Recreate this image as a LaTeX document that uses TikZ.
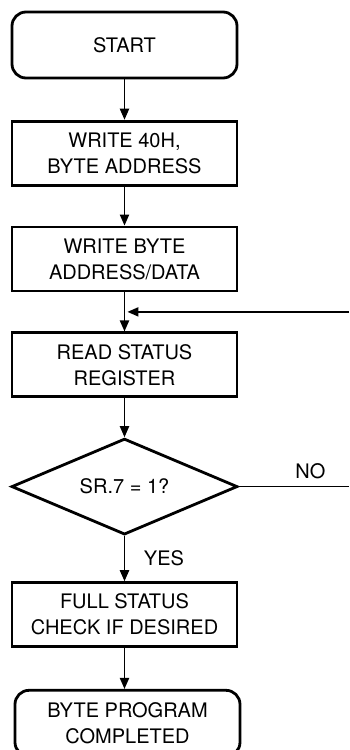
\documentclass[tikz,border=0pt]{standalone}
\usepackage{fontspec}
\setmainfont{TeX Gyre Heros}
\usetikzlibrary{arrows.meta,shapes.geometric,calc}

\begin{document}
\begin{tikzpicture}[->,>={Triangle[length=5.5pt,width=4.6pt]},line width=0.75pt,
  node distance=1.86cm,
  proc/.style={rectangle,draw,line width=1.4pt,
    font=\fontsize{10}{13}\selectfont,align=center,
    minimum height=32pt,minimum width=112.5pt},
  term/.style={proc,rounded corners=7pt,minimum height=33pt},
  test/.style={diamond,draw,line width=1.4pt,aspect=2.35,inner sep=0pt,
    font=\fontsize{10}{13}\selectfont,minimum height=48pt,minimum width=113pt},
  tag/.style={font=\fontsize{10}{13}\selectfont}]

  \useasboundingbox (-62.25pt,22.5pt) rectangle (112.25pt,-352.5pt);

  \node[term] (START) {START};
  \node[proc] (W40H) [node distance=1.9cm, below of=START] {WRITE 40H,\\BYTE ADDRESS};
  \node[proc] (WDATA) [below of=W40H] {WRITE BYTE\\ADDRESS/DATA};
  \node[proc] (RSR) [below of=WDATA] {READ STATUS\\REGISTER};
  \node[test] (SR7) [node distance=2.14cm, below of=RSR] {SR.7 = 1?};
  \node[proc] (FSC) [node distance=2.25cm, below of=SR7] {FULL STATUS\\CHECK IF DESIRED};
  \node[term] (DONE) [node distance=1.91cm, below of=FSC, xshift=1.5pt] {BYTE PROGRAM\\COMPLETED};

  \coordinate (EDGE) at (112.25pt,0);
  \coordinate (JOIN) at ($(WDATA.south)!0.5!(RSR.north)$);

  \path
  (START) edge (W40H)
  (W40H) edge (WDATA)
  (WDATA) edge (RSR)
  (RSR) edge (SR7)
  (SR7) edge node[tag,right=6pt] {YES} (FSC)
  (FSC) edge (FSC.south |- DONE.north)
  ;

  % loop back from the right
  \draw[shorten >=1.5pt] (JOIN -| EDGE) -- (JOIN);
  \draw[-] (SR7.east) -- node[tag,above,pos=0.65] {NO} (SR7.east -| EDGE);
\end{tikzpicture}
\end{document}
